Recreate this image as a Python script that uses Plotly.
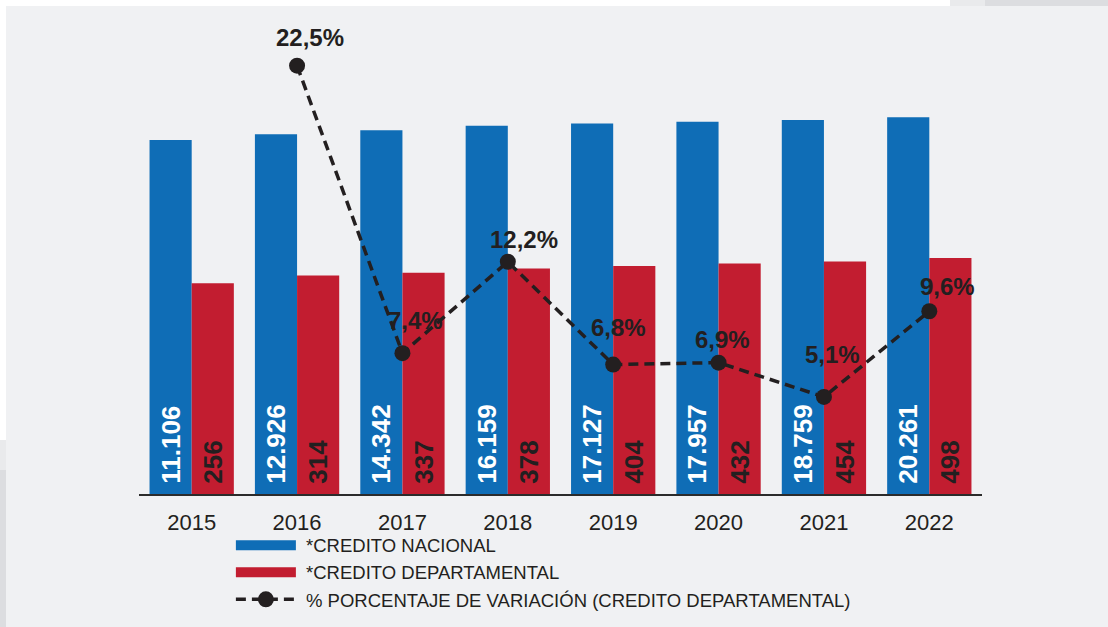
import plotly.graph_objects as go

# Annual credit figures
years = ["2015", "2016", "2017", "2018", "2019", "2020", "2021", "2022"]
credito_nacional = [11106, 12926, 14342, 16159, 17127, 17957, 18759, 20261]
credito_departamental = [256, 314, 337, 378, 404, 432, 454, 498]
# Year-on-year change of departmental credit (%); 2015 has no prior year
variacion_years = ["2016", "2017", "2018", "2019", "2020", "2021", "2022"]
variacion = [22.5, 7.4, 12.2, 6.8, 6.9, 5.1, 9.6]

# Label nudges (px) for the percentage labels
label_dx = [13, 13, 16, 5, 4, 9, 18]
label_dy = [28, 33, 22, 37, 23, 42, 25]

BLUE = "#0f6db6"
RED = "#c21d30"
DARK = "#231f20"
BG = "#f0f1f3"
FONT = "Liberation Sans, Arial, sans-serif"
NB = "\u00a0"

fig = go.Figure()

bar_text = dict(texttemplate=NB + "%{y:,.0f}", textposition="inside",
                insidetextanchor="start", textangle=-90)

fig.add_trace(go.Bar(
    x=years, y=credito_nacional, name="*CREDITO NACIONAL",
    marker=dict(color=BLUE, line=dict(width=0)),
    textfont=dict(family=FONT, size=26, color="white", weight="bold"),
    showlegend=False, **bar_text,
))
fig.add_trace(go.Bar(
    x=years, y=credito_departamental, name="*CREDITO DEPARTAMENTAL",
    marker=dict(color=RED, line=dict(width=0)),
    textfont=dict(family=FONT, size=26, color=DARK, weight="bold"),
    showlegend=False, **bar_text,
))
fig.add_trace(go.Scatter(
    x=variacion_years, y=variacion, yaxis="y2", mode="lines+markers",
    line=dict(color=DARK, width=3.5, dash="10px,6px"),
    marker=dict(size=16, color=DARK),
    showlegend=False, cliponaxis=False,
))

# Legend entries
fig.add_trace(go.Scatter(x=[None], y=[None], mode="lines", name=NB + "*CREDITO NACIONAL",
                         line=dict(color=BLUE, width=11)))
fig.add_trace(go.Scatter(x=[None], y=[None], mode="lines", name=NB + "*CREDITO DEPARTAMENTAL",
                         line=dict(color=RED, width=11)))
fig.add_trace(go.Scatter(x=[None], y=[None], mode="lines+markers",
                         name=NB + "% PORCENTAJE DE VARIACIÓN (CREDITO DEPARTAMENTAL)",
                         line=dict(color=DARK, width=3.5, dash="10px,6px"),
                         marker=dict(size=16, color=DARK)))

for yr, v, dx, dy in zip(variacion_years, variacion, label_dx, label_dy):
    fig.add_annotation(
        x=years.index(yr), y=v, xref="x", yref="y2",
        text=f"{v:.1f}".replace(".", ",") + "%",
        showarrow=False, xshift=dx, yshift=dy,
        font=dict(family=FONT, size=24, color=DARK, weight="bold"),
    )


def px_x(px):
    return (px - 139) / 843


def px_y(py):
    return (494 - py) / 474


def band(x0, x1, y0, y1, color):
    return dict(type="rect", xref="paper", yref="paper",
                x0=px_x(x0), x1=px_x(x1), y0=px_y(y1), y1=px_y(y0),
                layer="below", line=dict(width=0), fillcolor=color)


shapes = [
    band(6, 1120, 6, 640, BG),
    band(950, 985, 0, 6, "#e9eaec"),
    band(985, 1120, 0, 6, "#dcdde0"),
    band(0, 6, 440, 470, "#e9eaec"),
    band(0, 6, 470, 640, "#dcdde0"),
]

fig.update_layout(
    width=1108, height=627,
    margin=dict(l=139, r=126, t=20, b=133, autoexpand=False),
    paper_bgcolor="white", plot_bgcolor="rgba(0,0,0,0)",
    separators=",.",
    barmode="group", bargap=0.2, bargroupgap=0,
    font=dict(family=FONT, color=DARK),
    xaxis=dict(
        type="category", range=[-0.5, 7.5], showgrid=False, zeroline=False,
        showline=True, linecolor="#2b2b2b", linewidth=1.5,
        ticks="", tickfont=dict(size=22, color=DARK), ticklabelstandoff=8,
    ),
    yaxis=dict(type="log", range=[0, 5.417], visible=False, showgrid=False),
    yaxis2=dict(overlaying="y", range=[0, 24.9], visible=False, showgrid=False),
    legend=dict(
        orientation="v", x=0.109, xanchor="left", y=-0.069, yanchor="top",
        font=dict(size=18.5, color=DARK), itemwidth=60, tracegroupgap=0,
        bgcolor="rgba(0,0,0,0)",
    ),
    shapes=shapes,
)

fig.write_html("out.html")
